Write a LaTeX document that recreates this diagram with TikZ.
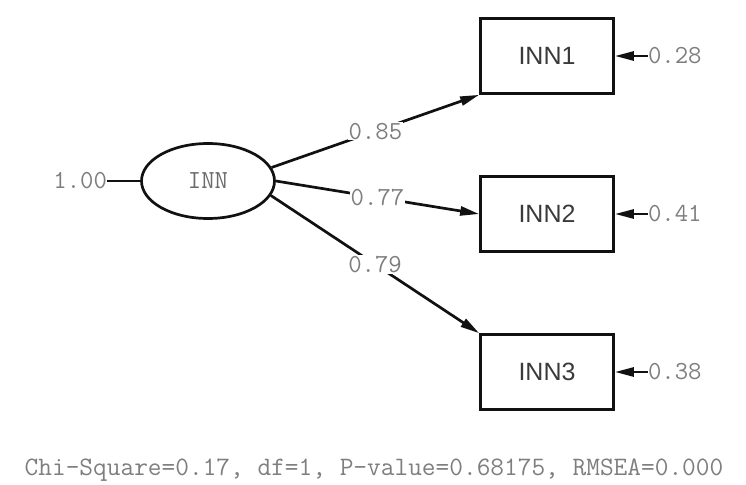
\documentclass[tikz,border=0pt]{standalone}
\usepackage{fontspec}
\usetikzlibrary{arrows.meta,positioning,shapes.geometric}
\newfontfamily\boxfont{Liberation Sans}
\newcommand{\numfont}{\ttfamily\fontsize{26}{26}\selectfont}
\definecolor{semInk}{HTML}{111111}
\definecolor{semNum}{HTML}{7E7E7E}
\definecolor{semLabel}{HTML}{3A3A3A}
\tikzset{
    >={Triangle[length=19pt,width=9pt]},
    latent/.style={ellipse, draw=semInk, line width=2.7pt, minimum width=133pt, minimum height=75pt, inner sep=0pt, font=\numfont, text=semNum!85!black},
    observed/.style={rectangle, draw=semInk, line width=2.7pt, minimum width=133pt, minimum height=75pt, font=\boxfont\fontsize{25}{25}\selectfont, text=semLabel},
    coef/.style={font=\numfont, text=semNum, fill=white, inner sep=1pt},
    errval/.style={font=\numfont, text=semNum, inner sep=0pt},
    fitstat/.style={font=\ttfamily\fontsize{26.6}{26.6}\selectfont, text=semNum, inner sep=0pt},
    loadarrow/.style={->, line width=2.7pt, draw=semInk},
    errarrow/.style={->, line width=2.7pt, draw=semInk},
    varline/.style={line width=2.7pt, draw=semInk}
}

\begin{document}
\begin{tikzpicture}[x=1pt, y=-1pt]
\useasboundingbox (0,0) rectangle (746,484);
% factor and its indicators
\node[latent] (inn) at (208,181) {INN};
\node[observed] (inn1) at (547,56) {INN1};
\node[observed] (inn2) at (547,214) {INN2};
\node[observed] (inn3) at (547,372) {INN3};
% variance and error terms
\node[errval, left=33pt of inn] (var) {1.00};
\node[errval, right=33pt of inn1] (e1) {0.28};
\node[errval, right=33pt of inn2] (e2) {0.41};
\node[errval, right=33pt of inn3] (e3) {0.38};
\draw[varline] (var)--(inn);
\draw[errarrow] (e1)--(inn1); \draw[errarrow] (e2)--(inn2); \draw[errarrow] (e3)--(inn3);
% loadings
\draw[loadarrow] (inn.12) -- node[coef] {0.85} (inn1.south west);
\draw[loadarrow] (inn.east) -- node[coef] {0.77} (inn2.west);
\draw[loadarrow] (inn.-13) -- node[coef] {0.79} (inn3.north west);
% fit statistics
\node[fitstat, anchor=base] (fit) at (374,475) {Chi-Square=0.17, df=1, P-value=0.68175, RMSEA=0.000};
\end{tikzpicture}
\end{document}
